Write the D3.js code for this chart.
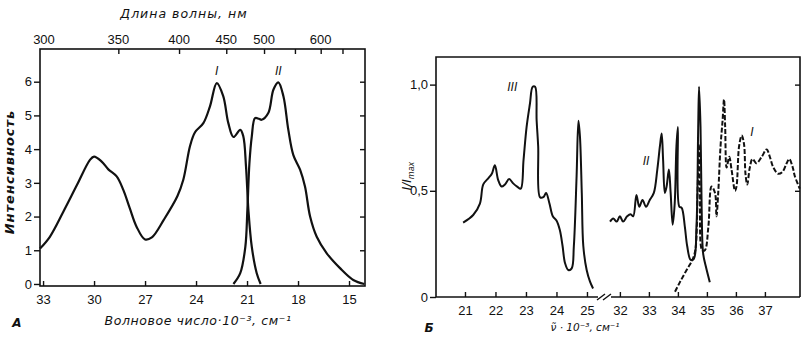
<!DOCTYPE html>
<html><head><meta charset="utf-8">
<script src="https://cdn.jsdelivr.net/npm/d3@7"></script>
<style>
body{margin:0;background:#fff;}
svg{display:block;}
text{fill:#111;font-family:"Liberation Sans",Arial,sans-serif;}
.ttl{font-style:italic;font-family:"DejaVu Sans",sans-serif;}
</style></head>
<body>
<svg id="c" width="809" height="342"></svg>
<script>
// ---------- Panel A data ----------
const aWaveTicks = [33, 30, 27, 24, 21, 18, 15];
const aIntTicks = [0, 1, 2, 3, 4, 5, 6];
const nmTicks = [350, 400, 450, 500, 550, 600, 650];
const nmLabels = [300, 350, 400, 450, 500, 600];
const absorptionI = [[33.18,1.05],[32.6,1.4],[31.8,2.15],[31.0,2.94],[30.24,3.68],[30.0,3.78],[29.55,3.63],[29.16,3.4],[28.67,3.19],[28.28,2.79],[27.9,2.25],[27.5,1.7],[27.0,1.32],[26.6,1.38],[25.9,1.9],[25.1,2.6],[24.75,3.09],[24.35,4.1],[24.06,4.5],[23.57,4.77],[23.18,5.27],[22.78,5.96],[22.4,5.57],[22.1,4.77],[21.8,4.36],[21.4,4.57],[21.22,4.38],[21.06,3.48],[20.92,2.2],[20.72,1.1],[20.43,0.32],[20.2,0.0]];
const emissionII = [[21.8,0],[21.4,0.32],[21.1,1.1],[20.98,2.2],[20.86,3.58],[20.72,4.38],[20.53,4.92],[20.3,4.9],[20.14,4.87],[19.75,5.07],[19.45,5.76],[19.16,5.98],[18.86,5.57],[18.57,4.57],[18.28,3.83],[17.88,3.39],[17.59,2.89],[17.29,2.0],[16.9,1.4],[16.31,0.91],[15.53,0.47],[14.75,0.12],[14.1,0.0]];

// ---------- Panel B data ----------
const bWaveTicks = [21, 22, 23, 24, 25, 32, 33, 34, 35, 36, 37];
const bRelTicks = [0, 0.5, 1.0];
const bRelLabels = ["0", "0,5", "1,0"];
const curveIII = [[20.94,0.35],[21.27,0.386],[21.49,0.44],[21.6,0.53],[21.77,0.56],[21.88,0.58],[21.98,0.62],[22.09,0.55],[22.2,0.52],[22.31,0.53],[22.45,0.555],[22.58,0.535],[22.71,0.52],[22.83,0.51],[22.92,0.645],[23.02,0.80],[23.13,0.91],[23.22,0.99],[23.3,0.99],[23.35,0.83],[23.4,0.71],[23.46,0.47],[23.57,0.47],[23.66,0.49],[23.77,0.44],[23.88,0.38],[24.0,0.36],[24.11,0.315],[24.2,0.24],[24.28,0.16],[24.39,0.127],[24.5,0.135],[24.57,0.24],[24.66,0.57],[24.72,0.83],[24.77,0.755],[24.83,0.49],[24.88,0.24],[24.99,0.127],[25.1,0.072],[25.2,0.04]];
const curveII = [[31.66,0.355],[31.77,0.37],[31.89,0.355],[32.0,0.38],[32.11,0.355],[32.25,0.38],[32.37,0.39],[32.46,0.38],[32.57,0.48],[32.67,0.425],[32.78,0.457],[32.9,0.425],[33.03,0.457],[33.17,0.49],[33.29,0.6],[33.38,0.71],[33.44,0.77],[33.49,0.645],[33.55,0.49],[33.61,0.52],[33.69,0.6],[33.75,0.49],[33.82,0.34],[33.89,0.44],[33.95,0.71],[34.0,0.8],[34.05,0.425],[34.13,0.42],[34.24,0.33],[34.32,0.24],[34.44,0.175],[34.55,0.18],[34.64,0.33],[34.7,0.8],[34.73,0.99],[34.78,0.8],[34.82,0.41],[34.87,0.205],[34.97,0.14],[35.1,0.07]];
const curveI = [[33.9,0.025],[34.07,0.07],[34.3,0.127],[34.5,0.175],[34.6,0.22],[34.68,0.5],[34.72,0.72],[34.76,0.5],[34.84,0.22],[34.93,0.22],[35.05,0.33],[35.16,0.52],[35.28,0.49],[35.33,0.38],[35.39,0.49],[35.47,0.71],[35.54,0.83],[35.59,0.93],[35.63,0.8],[35.68,0.61],[35.77,0.66],[35.85,0.6],[35.97,0.5],[36.02,0.52],[36.11,0.71],[36.2,0.76],[36.28,0.72],[36.33,0.58],[36.39,0.53],[36.48,0.61],[36.57,0.65],[36.71,0.63],[36.89,0.66],[37.06,0.695],[37.17,0.66],[37.29,0.61],[37.46,0.58],[37.61,0.59],[37.75,0.63],[37.84,0.65],[37.96,0.61],[38.03,0.57],[38.2,0.51]];

const svg = d3.select("#c");
const ink = "#111";

// ================= PANEL A =================
const A = {l:40, r:365, t:49, b:286};
const xA = d3.scaleLinear().domain([33.18, 14.06]).range([A.l, A.r]);
const yA = d3.scaleLinear().domain([-0.06, 6.97]).range([A.b, A.t]);
const gA = svg.append("g");
gA.append("rect").attr("x",A.l).attr("y",A.t).attr("width",A.r-A.l).attr("height",A.b-A.t)
  .attr("fill","none").attr("stroke",ink).attr("stroke-width",1.6);
gA.append("g").attr("transform",`translate(0,${A.b})`)
  .call(d3.axisBottom(xA).tickValues(aWaveTicks).tickSizeInner(-5).tickSizeOuter(0).tickPadding(9).tickFormat(d3.format("d")))
  .call(g=>{g.select(".domain").remove();g.selectAll("line").attr("stroke",ink).attr("stroke-width",1.4);
    g.selectAll("text").attr("font-size",13).attr("fill",ink);});
gA.append("g").attr("transform",`translate(${A.l},0)`)
  .call(d3.axisLeft(yA).tickValues(aIntTicks).tickSizeInner(6).tickSizeOuter(0).tickPadding(2).tickFormat(d3.format("d")))
  .call(g=>{g.select(".domain").remove();g.selectAll("line").attr("stroke",ink).attr("stroke-width",1.4);
    g.selectAll("text").attr("font-size",13).attr("fill",ink);});
gA.append("g").attr("transform",`translate(${A.r},0)`)
  .call(d3.axisRight(yA).tickValues(aIntTicks.filter(d=>d>0)).tickSizeInner(-5).tickSizeOuter(0).tickFormat(""))
  .call(g=>{g.select(".domain").remove();g.selectAll("line").attr("stroke",ink).attr("stroke-width",1.4);});
gA.append("g").attr("transform",`translate(0,${A.t})`)
  .call(d3.axisTop(xA).tickValues(nmTicks.map(n=>1e4/n)).tickSizeInner(-5).tickSizeOuter(0).tickFormat(""))
  .call(g=>{g.select(".domain").remove();g.selectAll("line").attr("stroke",ink).attr("stroke-width",1.4);});
gA.selectAll("text.nm").data(nmLabels).join("text").attr("class","nm")
  .attr("x",d=>Math.max(xA(1e4/d), 44)).attr("y",A.t-5).attr("text-anchor","middle")
  .attr("font-size",13).text(d=>d);

const lineA = d3.line().x(d=>xA(d[0])).y(d=>yA(d[1])).curve(d3.curveCatmullRom.alpha(0.5));
gA.append("path").datum(absorptionI).attr("d",lineA).attr("fill","none").attr("stroke",ink).attr("stroke-width",2.2);
gA.append("path").datum(emissionII).attr("d",lineA).attr("fill","none").attr("stroke",ink).attr("stroke-width",2.2);

gA.append("text").attr("x",xA(22.78)).attr("y",yA(6.2)).attr("text-anchor","middle")
  .attr("font-size",12).attr("font-family","Liberation Serif,serif").attr("font-style","italic").text("I");
gA.append("text").attr("x",xA(19.16)).attr("y",yA(6.2)).attr("text-anchor","middle")
  .attr("font-size",12).attr("font-family","Liberation Serif,serif").attr("font-style","italic").text("II");

gA.append("text").attr("class","ttl").attr("x",184).attr("y",18).attr("text-anchor","middle")
  .attr("font-size",12.5).attr("letter-spacing",1).text("Длина волны, нм");
gA.append("text").attr("class","ttl").attr("x",198).attr("y",325).attr("text-anchor","middle")
  .attr("font-size",12.5).attr("letter-spacing",0.6).text("Волновое число·10⁻³, см⁻¹");
gA.append("text").attr("class","ttl").attr("transform","translate(14,172) rotate(-90)").attr("text-anchor","middle")
  .attr("font-size",13).attr("font-weight","bold").attr("letter-spacing",1).text("Интенсивность");
gA.append("text").attr("class","ttl").attr("x",17).attr("y",327).attr("text-anchor","middle")
  .attr("font-size",12).attr("font-weight","bold").text("А");

// ================= PANEL B =================
const B = {l:436, r:800, t:57, b:297};
const xB = d3.scaleLinear().domain([20.05, 25.46, 31.59, 38.21]).range([B.l, 601, 608, B.r]);
const yB = d3.scaleLinear().domain([0, 1.13]).range([B.b, B.t]);
const gB = svg.append("g");
gB.append("path").attr("d",`M${B.l},${B.b}V${B.t}H${B.r}V${B.b}`).attr("fill","none").attr("stroke",ink).attr("stroke-width",1.6);
gB.append("line").attr("x1",B.l).attr("x2",598).attr("y1",B.b).attr("y2",B.b).attr("stroke",ink).attr("stroke-width",1.6);
gB.append("line").attr("x1",611).attr("x2",B.r).attr("y1",B.b).attr("y2",B.b).attr("stroke",ink).attr("stroke-width",1.6);
gB.append("path").attr("d",`M597,${B.b+3}L605,${B.b-3}M603,${B.b+3}L611,${B.b-3}`).attr("stroke",ink).attr("stroke-width",1.4).attr("fill","none");

gB.append("g").attr("transform",`translate(0,${B.b})`)
  .call(d3.axisBottom(xB).tickValues(bWaveTicks).tickSizeInner(-5).tickSizeOuter(0).tickPadding(9).tickFormat(d3.format("d")))
  .call(g=>{g.select(".domain").remove();g.selectAll("line").attr("stroke",ink).attr("stroke-width",1.4);
    g.selectAll("text").attr("font-size",13).attr("fill",ink);});
gB.append("g").attr("transform",`translate(${B.l},0)`)
  .call(d3.axisLeft(yB).tickValues(bRelTicks).tickSizeInner(6).tickSizeOuter(0).tickPadding(2).tickFormat((d,i)=>bRelLabels[i]))
  .call(g=>{g.select(".domain").remove();g.selectAll("line").attr("stroke",ink).attr("stroke-width",1.4);
    g.selectAll("text").attr("font-size",13).attr("fill",ink);});
gB.append("g").attr("transform",`translate(${B.r},0)`)
  .call(d3.axisRight(yB).tickValues([0.5,1.0]).tickSizeInner(-5).tickSizeOuter(0).tickFormat(""))
  .call(g=>{g.select(".domain").remove();g.selectAll("line").attr("stroke",ink).attr("stroke-width",1.4);});

const lineB = d3.line().x(d=>xB(d[0])).y(d=>yB(d[1])).curve(d3.curveCatmullRom.alpha(0.5));
gB.append("path").datum(curveIII).attr("d",lineB).attr("fill","none").attr("stroke",ink).attr("stroke-width",2);
gB.append("path").datum(curveII).attr("d",lineB).attr("fill","none").attr("stroke",ink).attr("stroke-width",2);
gB.append("path").datum(curveI).attr("d",lineB).attr("fill","none").attr("stroke",ink).attr("stroke-width",2).attr("stroke-dasharray","5,2");

const lab = (x,y,t)=>gB.append("text").attr("x",x).attr("y",y).attr("text-anchor","middle")
  .attr("font-size",12).attr("font-family","Liberation Serif,serif").attr("font-style","italic").text(t);
lab(xB(22.55), yB(0.97), "III");
lab(xB(32.9), yB(0.62), "II");
lab(xB(36.55), yB(0.76), "I");

const yt = gB.append("text").attr("class","ttl").attr("transform","translate(411,176) rotate(-90)")
  .attr("text-anchor","middle").attr("font-size",12);
yt.append("tspan").text("I/I");
yt.append("tspan").attr("font-size",8).attr("dy",3).text("max");
gB.append("text").attr("class","ttl").attr("x",585).attr("y",331).attr("text-anchor","middle")
  .attr("font-size",10.5).text("ν̃ · 10⁻³, см⁻¹");
gB.append("text").attr("class","ttl").attr("x",429).attr("y",332).attr("text-anchor","middle")
  .attr("font-size",12).attr("font-weight","bold").text("Б");
</script>
</body></html>
